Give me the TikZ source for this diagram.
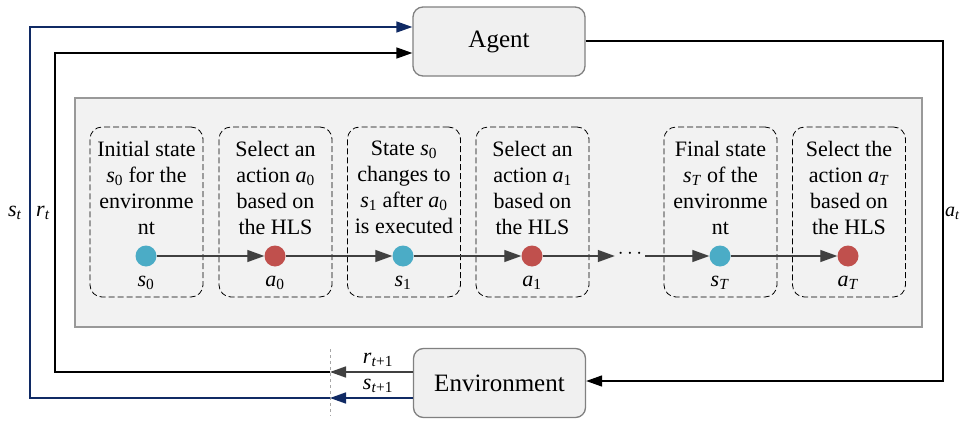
\documentclass[tikz,border=0pt]{standalone}
\usepackage{fontspec}
\setmainfont{Liberation Serif}
\usetikzlibrary{arrows.meta}
\definecolor{navy}{RGB}{16,42,100}
\definecolor{cblue}{RGB}{75,172,198}
\definecolor{cred}{RGB}{192,80,77}
\definecolor{panelfill}{RGB}{242,242,242}
\definecolor{boxfill}{RGB}{240,240,240}
\definecolor{lgray}{RGB}{128,128,128}
\definecolor{dgray}{RGB}{64,64,64}
\newcommand\vv[2]{\textit{#1}\textsubscript{#2}}
\begin{document}
\begin{tikzpicture}[x=1pt,y=-1pt,
  bigbox/.style={draw=lgray,line width=1.3pt,fill=boxfill,rounded corners=10pt,minimum width=172pt,minimum height=69pt,font=\fontsize{25}{30}\selectfont,inner sep=0pt},
  stepbox/.style={draw=black,dashed,dash pattern=on 6pt off 3pt,line width=0.8pt,rounded corners=12pt,minimum width=113pt,minimum height=170pt,inner sep=0pt},
  boxtext/.style={align=center,anchor=north,font=\fontsize{22}{26}\selectfont,inner sep=0pt},
  dotst/.style={circle,minimum size=21pt,inner sep=0pt,draw=none},
  sublbl/.style={font=\fontsize{22}{26}\selectfont,inner sep=0pt},
  chain/.style={draw=dgray,line width=1.3pt,-{Triangle[length=17pt,width=12pt]}},
  fb/.style={line width=1.5pt,-{Triangle[length=16pt,width=11pt]}},
]
\useasboundingbox (0,0) rectangle (962,423);
% nodes
\node[bigbox] (agent) at (499,41.5) {Agent};
\node[bigbox] (env) at (499.5,383) {Environment};
\node[draw=lgray!80,line width=2pt,fill=panelfill,minimum width=847pt,minimum height=229pt,inner sep=0pt] (panel) at (498.5,212.5) {};
% step boxes
\foreach \n/\x in {b1/146.5,b2/275.5,b3/404,b4/532.5,b5/720.5,b6/849}{
  \node[stepbox] (\n) at (\x,212) {};
}
\node[boxtext] (t1) at (146.5,141) {Initial state\\\vv{s}{0} for the\\environme\\nt};
\node[boxtext] (t2) at (275.5,141) {Select an\\action \vv{a}{0}\\based on\\the HLS};
\node[boxtext] (t3) at (404,141) {State \vv{s}{0}\\changes to\\\vv{s}{1} after \vv{a}{0}\\is executed};
\node[boxtext] (t4) at (532.5,141) {Select an\\action \vv{a}{1}\\based on\\the HLS};
\node[boxtext] (t5) at (720.5,141) {Final state\\\vv{s}{\textit{T}} of the\\environme\\nt};
\node[boxtext] (t6) at (849,141) {Select the\\action \vv{a}{\textit{T}}\\based on\\the HLS};
% dots
\node[dotst,fill=cblue] (s0) at (146,256) {};
\node[dotst,fill=cred] (a0) at (275,256) {};
\node[dotst,fill=cblue] (s1) at (403,256) {};
\node[dotst,fill=cred] (a1) at (532,256) {};
\node[dotst,fill=cblue] (sT) at (720,256) {};
\node[dotst,fill=cred] (aT) at (848,256) {};
\node[inner sep=0pt,minimum width=30pt,font=\fontsize{22}{26}\selectfont] (dots) at (630,254) {$\cdots$};
% labels
\node[sublbl] (ls0) at (146,283) {\vv{s}{0}};
\node[sublbl] (la0) at (275,283) {\vv{a}{0}};
\node[sublbl] (ls1) at (403,283) {\vv{s}{1}};
\node[sublbl] (la1) at (532,283) {\vv{a}{1}};
\node[sublbl] (lsT) at (720,283) {\vv{s}{\textit{T}}};
\node[sublbl] (laT) at (848,283) {\vv{a}{\textit{T}}};
% chain arrows
\draw[chain] (s0) -- (a0);
\draw[chain] (a0) -- (s1);
\draw[chain] (s1) -- (a1);
\draw[chain] (a1) -- (dots.west |- a1);
\draw[chain] (dots.east |- sT) -- (sT);
\draw[chain] (sT) -- (aT);
% feedback
\coordinate (cut1) at (330,372);
\coordinate (cut2) at (330,398);
\draw[gray!70,dashed,line width=0.8pt] (330,349) -- (330,416);
\draw[fb,draw=dgray] (env.west |- cut1) -- (cut1);
\draw[fb,draw=navy] (env.west |- cut2) -- (cut2);
\draw[fb,draw=black] (cut1) -- (55,372) -- (55,53) -- (agent.west |- 0,53);
\draw[fb,draw=navy] (cut2) -- (30,398) -- (30,27) -- (agent.west |- 0,27);
\draw[fb,draw=black] (agent.east |- 0,41) -- (943,41) -- (943,381) -- (env.east |- 0,381);
% labels
\node[sublbl] (lst) at (15,213) {\vv{s}{\textit{t}}};
\node[sublbl] (lrt) at (43,213) {\vv{r}{\textit{t}}};
\node[sublbl,font=\fontsize{20}{24}\selectfont] (lat) at (952.5,213) {\vv{a}{\textit{t}}};
\node[sublbl] (lrt1) at (378,360) {\vv{r}{\textit{t}+1}};
\node[sublbl] (lst1) at (378,386) {\vv{s}{\textit{t}+1}};
\end{tikzpicture}
\end{document}
